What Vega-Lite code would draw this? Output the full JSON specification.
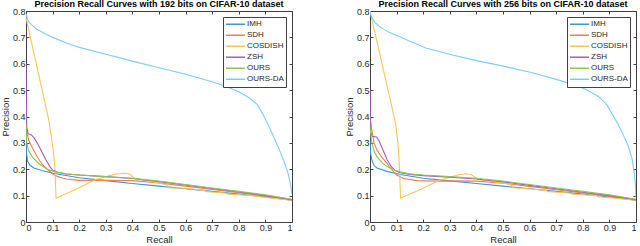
{
"$schema": "https://vega.github.io/schema/vega-lite/v6.json",
"padding": 0,
"background": "white",
"config": {
  "font": "Liberation Sans",
  "view": {"stroke": null},
  "axis": {"grid": false, "labelFont": "Liberation Sans", "labelFontSize": 9, "labelColor": "#262626", "tickColor": "#404040", "domainColor": "#404040", "tickSize": -3, "labelPadding": 4, "titleFont": "Liberation Sans", "titleFontSize": 9.5, "titleFontWeight": "normal", "titleColor": "#262626", "titlePadding": 2},
  "axisY": {"titlePadding": 2, "labelPadding": 4},
  "title": {"font": "Liberation Sans", "fontSize": 9, "fontWeight": "bold", "color": "#000000", "offset": -2},
  "legend": {"orient": "top-right", "offset": 6, "strokeColor": "#404040", "fillColor": "white", "padding": 2, "symbolType": "stroke", "symbolSize": 361, "symbolStrokeWidth": 1.5, "labelFont": "Liberation Sans", "labelFontSize": 8, "labelColor": "#262626", "clipHeight": 10.3, "rowPadding": 0, "labelOffset": 1, "cornerRadius": 0}
},
"datasets": {
"d": [
{"b":192,"m":"IMH","r":0,"p":0.31},{"b":192,"m":"IMH","r":0.002,"p":0.26},{"b":192,"m":"IMH","r":0.006,"p":0.23},{"b":192,"m":"IMH","r":0.015,"p":0.215},{"b":192,"m":"IMH","r":0.03,"p":0.205},{"b":192,"m":"IMH","r":0.06,"p":0.195},{"b":192,"m":"IMH","r":0.1,"p":0.185},{"b":192,"m":"IMH","r":0.15,"p":0.176},{"b":192,"m":"IMH","r":0.2,"p":0.168},{"b":192,"m":"IMH","r":0.3,"p":0.157},{"b":192,"m":"IMH","r":0.4,"p":0.146},{"b":192,"m":"IMH","r":0.5,"p":0.136},{"b":192,"m":"IMH","r":0.6,"p":0.126},{"b":192,"m":"IMH","r":0.7,"p":0.116},{"b":192,"m":"IMH","r":0.8,"p":0.106},{"b":192,"m":"IMH","r":0.9,"p":0.095},{"b":192,"m":"IMH","r":1,"p":0.083},
{"b":192,"m":"SDH","r":0,"p":0.42},{"b":192,"m":"SDH","r":0.002,"p":0.35},{"b":192,"m":"SDH","r":0.01,"p":0.31},{"b":192,"m":"SDH","r":0.025,"p":0.28},{"b":192,"m":"SDH","r":0.04,"p":0.25},{"b":192,"m":"SDH","r":0.06,"p":0.22},{"b":192,"m":"SDH","r":0.08,"p":0.2},{"b":192,"m":"SDH","r":0.1,"p":0.182},{"b":192,"m":"SDH","r":0.12,"p":0.172},{"b":192,"m":"SDH","r":0.15,"p":0.163},{"b":192,"m":"SDH","r":0.2,"p":0.158},{"b":192,"m":"SDH","r":0.3,"p":0.158},{"b":192,"m":"SDH","r":0.4,"p":0.157},{"b":192,"m":"SDH","r":0.5,"p":0.148},{"b":192,"m":"SDH","r":0.6,"p":0.136},{"b":192,"m":"SDH","r":0.7,"p":0.123},{"b":192,"m":"SDH","r":0.8,"p":0.111},{"b":192,"m":"SDH","r":0.9,"p":0.098},{"b":192,"m":"SDH","r":1,"p":0.083},
{"b":192,"m":"COSDISH","r":0,"p":0.775},{"b":192,"m":"COSDISH","r":0.086,"p":0.385},{"b":192,"m":"COSDISH","r":0.1,"p":0.29},{"b":192,"m":"COSDISH","r":0.108,"p":0.22},{"b":192,"m":"COSDISH","r":0.113,"p":0.09},{"b":192,"m":"COSDISH","r":0.2,"p":0.13},{"b":192,"m":"COSDISH","r":0.26,"p":0.16},{"b":192,"m":"COSDISH","r":0.3,"p":0.172},{"b":192,"m":"COSDISH","r":0.34,"p":0.182},{"b":192,"m":"COSDISH","r":0.37,"p":0.185},{"b":192,"m":"COSDISH","r":0.39,"p":0.182},{"b":192,"m":"COSDISH","r":0.405,"p":0.168},{"b":192,"m":"COSDISH","r":0.42,"p":0.162},{"b":192,"m":"COSDISH","r":0.5,"p":0.148},{"b":192,"m":"COSDISH","r":0.53,"p":0.14},{"b":192,"m":"COSDISH","r":0.535,"p":0.13},{"b":192,"m":"COSDISH","r":0.6,"p":0.128},{"b":192,"m":"COSDISH","r":0.67,"p":0.12},{"b":192,"m":"COSDISH","r":0.68,"p":0.115},{"b":192,"m":"COSDISH","r":0.75,"p":0.11},{"b":192,"m":"COSDISH","r":0.76,"p":0.105},{"b":192,"m":"COSDISH","r":0.85,"p":0.1},{"b":192,"m":"COSDISH","r":0.9,"p":0.093},{"b":192,"m":"COSDISH","r":1,"p":0.083},
{"b":192,"m":"ZSH","r":0,"p":0.6},{"b":192,"m":"ZSH","r":0.001,"p":0.45},{"b":192,"m":"ZSH","r":0.003,"p":0.36},{"b":192,"m":"ZSH","r":0.008,"p":0.335},{"b":192,"m":"ZSH","r":0.02,"p":0.33},{"b":192,"m":"ZSH","r":0.03,"p":0.32},{"b":192,"m":"ZSH","r":0.045,"p":0.295},{"b":192,"m":"ZSH","r":0.06,"p":0.265},{"b":192,"m":"ZSH","r":0.075,"p":0.235},{"b":192,"m":"ZSH","r":0.09,"p":0.21},{"b":192,"m":"ZSH","r":0.1,"p":0.197},{"b":192,"m":"ZSH","r":0.12,"p":0.188},{"b":192,"m":"ZSH","r":0.15,"p":0.182},{"b":192,"m":"ZSH","r":0.2,"p":0.178},{"b":192,"m":"ZSH","r":0.3,"p":0.172},{"b":192,"m":"ZSH","r":0.4,"p":0.165},{"b":192,"m":"ZSH","r":0.5,"p":0.153},{"b":192,"m":"ZSH","r":0.6,"p":0.14},{"b":192,"m":"ZSH","r":0.7,"p":0.127},{"b":192,"m":"ZSH","r":0.8,"p":0.114},{"b":192,"m":"ZSH","r":0.9,"p":0.1},{"b":192,"m":"ZSH","r":1,"p":0.085},
{"b":192,"m":"OURS","r":0,"p":0.37},{"b":192,"m":"OURS","r":0.003,"p":0.3},{"b":192,"m":"OURS","r":0.01,"p":0.27},{"b":192,"m":"OURS","r":0.025,"p":0.245},{"b":192,"m":"OURS","r":0.05,"p":0.22},{"b":192,"m":"OURS","r":0.08,"p":0.2},{"b":192,"m":"OURS","r":0.11,"p":0.19},{"b":192,"m":"OURS","r":0.15,"p":0.183},{"b":192,"m":"OURS","r":0.2,"p":0.178},{"b":192,"m":"OURS","r":0.3,"p":0.172},{"b":192,"m":"OURS","r":0.4,"p":0.166},{"b":192,"m":"OURS","r":0.5,"p":0.155},{"b":192,"m":"OURS","r":0.6,"p":0.142},{"b":192,"m":"OURS","r":0.7,"p":0.129},{"b":192,"m":"OURS","r":0.8,"p":0.116},{"b":192,"m":"OURS","r":0.9,"p":0.103},{"b":192,"m":"OURS","r":1,"p":0.086},
{"b":192,"m":"OURS-DA","r":0,"p":0.79},{"b":192,"m":"OURS-DA","r":0.005,"p":0.77},{"b":192,"m":"OURS-DA","r":0.01,"p":0.76},{"b":192,"m":"OURS-DA","r":0.02,"p":0.748},{"b":192,"m":"OURS-DA","r":0.04,"p":0.732},{"b":192,"m":"OURS-DA","r":0.07,"p":0.715},{"b":192,"m":"OURS-DA","r":0.1,"p":0.7},{"b":192,"m":"OURS-DA","r":0.15,"p":0.68},{"b":192,"m":"OURS-DA","r":0.2,"p":0.662},{"b":192,"m":"OURS-DA","r":0.3,"p":0.636},{"b":192,"m":"OURS-DA","r":0.4,"p":0.61},{"b":192,"m":"OURS-DA","r":0.5,"p":0.585},{"b":192,"m":"OURS-DA","r":0.6,"p":0.56},{"b":192,"m":"OURS-DA","r":0.7,"p":0.532},{"b":192,"m":"OURS-DA","r":0.75,"p":0.515},{"b":192,"m":"OURS-DA","r":0.8,"p":0.494},{"b":192,"m":"OURS-DA","r":0.84,"p":0.47},{"b":192,"m":"OURS-DA","r":0.87,"p":0.445},{"b":192,"m":"OURS-DA","r":0.89,"p":0.41},{"b":192,"m":"OURS-DA","r":0.91,"p":0.37},{"b":192,"m":"OURS-DA","r":0.93,"p":0.325},{"b":192,"m":"OURS-DA","r":0.95,"p":0.28},{"b":192,"m":"OURS-DA","r":0.97,"p":0.23},{"b":192,"m":"OURS-DA","r":0.985,"p":0.185},{"b":192,"m":"OURS-DA","r":0.995,"p":0.14},{"b":192,"m":"OURS-DA","r":1,"p":0.105},
{"b":256,"m":"IMH","r":0,"p":0.31},{"b":256,"m":"IMH","r":0.002,"p":0.26},{"b":256,"m":"IMH","r":0.008,"p":0.232},{"b":256,"m":"IMH","r":0.015,"p":0.215},{"b":256,"m":"IMH","r":0.026,"p":0.205},{"b":256,"m":"IMH","r":0.064,"p":0.192},{"b":256,"m":"IMH","r":0.114,"p":0.18},{"b":256,"m":"IMH","r":0.2,"p":0.166},{"b":256,"m":"IMH","r":0.3,"p":0.156},{"b":256,"m":"IMH","r":0.4,"p":0.146},{"b":256,"m":"IMH","r":0.5,"p":0.136},{"b":256,"m":"IMH","r":0.6,"p":0.126},{"b":256,"m":"IMH","r":0.7,"p":0.116},{"b":256,"m":"IMH","r":0.8,"p":0.106},{"b":256,"m":"IMH","r":0.9,"p":0.095},{"b":256,"m":"IMH","r":1,"p":0.083},
{"b":256,"m":"SDH","r":0,"p":0.4},{"b":256,"m":"SDH","r":0.005,"p":0.36},{"b":256,"m":"SDH","r":0.015,"p":0.3},{"b":256,"m":"SDH","r":0.026,"p":0.273},{"b":256,"m":"SDH","r":0.045,"p":0.245},{"b":256,"m":"SDH","r":0.064,"p":0.222},{"b":256,"m":"SDH","r":0.08,"p":0.2},{"b":256,"m":"SDH","r":0.1,"p":0.178},{"b":256,"m":"SDH","r":0.126,"p":0.165},{"b":256,"m":"SDH","r":0.176,"p":0.157},{"b":256,"m":"SDH","r":0.25,"p":0.155},{"b":256,"m":"SDH","r":0.3,"p":0.156},{"b":256,"m":"SDH","r":0.4,"p":0.155},{"b":256,"m":"SDH","r":0.5,"p":0.147},{"b":256,"m":"SDH","r":0.6,"p":0.135},{"b":256,"m":"SDH","r":0.7,"p":0.122},{"b":256,"m":"SDH","r":0.8,"p":0.11},{"b":256,"m":"SDH","r":0.9,"p":0.097},{"b":256,"m":"SDH","r":1,"p":0.083},
{"b":256,"m":"COSDISH","r":0,"p":0.8},{"b":256,"m":"COSDISH","r":0.096,"p":0.375},{"b":256,"m":"COSDISH","r":0.105,"p":0.3},{"b":256,"m":"COSDISH","r":0.11,"p":0.22},{"b":256,"m":"COSDISH","r":0.115,"p":0.09},{"b":256,"m":"COSDISH","r":0.2,"p":0.128},{"b":256,"m":"COSDISH","r":0.26,"p":0.158},{"b":256,"m":"COSDISH","r":0.3,"p":0.17},{"b":256,"m":"COSDISH","r":0.33,"p":0.178},{"b":256,"m":"COSDISH","r":0.36,"p":0.183},{"b":256,"m":"COSDISH","r":0.38,"p":0.18},{"b":256,"m":"COSDISH","r":0.395,"p":0.17},{"b":256,"m":"COSDISH","r":0.41,"p":0.16},{"b":256,"m":"COSDISH","r":0.5,"p":0.148},{"b":256,"m":"COSDISH","r":0.53,"p":0.14},{"b":256,"m":"COSDISH","r":0.54,"p":0.13},{"b":256,"m":"COSDISH","r":0.58,"p":0.127},{"b":256,"m":"COSDISH","r":0.66,"p":0.12},{"b":256,"m":"COSDISH","r":0.67,"p":0.115},{"b":256,"m":"COSDISH","r":0.75,"p":0.11},{"b":256,"m":"COSDISH","r":0.76,"p":0.105},{"b":256,"m":"COSDISH","r":0.85,"p":0.1},{"b":256,"m":"COSDISH","r":0.86,"p":0.095},{"b":256,"m":"COSDISH","r":0.9,"p":0.092},{"b":256,"m":"COSDISH","r":1,"p":0.083},
{"b":256,"m":"ZSH","r":0,"p":0.5},{"b":256,"m":"ZSH","r":0.001,"p":0.4},{"b":256,"m":"ZSH","r":0.003,"p":0.34},{"b":256,"m":"ZSH","r":0.008,"p":0.325},{"b":256,"m":"ZSH","r":0.025,"p":0.322},{"b":256,"m":"ZSH","r":0.035,"p":0.305},{"b":256,"m":"ZSH","r":0.05,"p":0.27},{"b":256,"m":"ZSH","r":0.065,"p":0.235},{"b":256,"m":"ZSH","r":0.08,"p":0.21},{"b":256,"m":"ZSH","r":0.095,"p":0.195},{"b":256,"m":"ZSH","r":0.11,"p":0.188},{"b":256,"m":"ZSH","r":0.15,"p":0.18},{"b":256,"m":"ZSH","r":0.2,"p":0.176},{"b":256,"m":"ZSH","r":0.3,"p":0.17},{"b":256,"m":"ZSH","r":0.4,"p":0.163},{"b":256,"m":"ZSH","r":0.5,"p":0.152},{"b":256,"m":"ZSH","r":0.6,"p":0.139},{"b":256,"m":"ZSH","r":0.7,"p":0.126},{"b":256,"m":"ZSH","r":0.8,"p":0.113},{"b":256,"m":"ZSH","r":0.9,"p":0.1},{"b":256,"m":"ZSH","r":1,"p":0.085},
{"b":256,"m":"OURS","r":0,"p":0.36},{"b":256,"m":"OURS","r":0.005,"p":0.31},{"b":256,"m":"OURS","r":0.015,"p":0.27},{"b":256,"m":"OURS","r":0.026,"p":0.248},{"b":256,"m":"OURS","r":0.045,"p":0.225},{"b":256,"m":"OURS","r":0.064,"p":0.21},{"b":256,"m":"OURS","r":0.09,"p":0.197},{"b":256,"m":"OURS","r":0.114,"p":0.19},{"b":256,"m":"OURS","r":0.15,"p":0.183},{"b":256,"m":"OURS","r":0.2,"p":0.178},{"b":256,"m":"OURS","r":0.3,"p":0.172},{"b":256,"m":"OURS","r":0.4,"p":0.166},{"b":256,"m":"OURS","r":0.5,"p":0.155},{"b":256,"m":"OURS","r":0.6,"p":0.142},{"b":256,"m":"OURS","r":0.7,"p":0.129},{"b":256,"m":"OURS","r":0.8,"p":0.116},{"b":256,"m":"OURS","r":0.9,"p":0.103},{"b":256,"m":"OURS","r":1,"p":0.086},
{"b":256,"m":"OURS-DA","r":0,"p":0.8},{"b":256,"m":"OURS-DA","r":0.005,"p":0.78},{"b":256,"m":"OURS-DA","r":0.01,"p":0.768},{"b":256,"m":"OURS-DA","r":0.02,"p":0.755},{"b":256,"m":"OURS-DA","r":0.04,"p":0.738},{"b":256,"m":"OURS-DA","r":0.07,"p":0.72},{"b":256,"m":"OURS-DA","r":0.11,"p":0.703},{"b":256,"m":"OURS-DA","r":0.15,"p":0.685},{"b":256,"m":"OURS-DA","r":0.21,"p":0.66},{"b":256,"m":"OURS-DA","r":0.31,"p":0.633},{"b":256,"m":"OURS-DA","r":0.41,"p":0.61},{"b":256,"m":"OURS-DA","r":0.51,"p":0.589},{"b":256,"m":"OURS-DA","r":0.61,"p":0.566},{"b":256,"m":"OURS-DA","r":0.71,"p":0.538},{"b":256,"m":"OURS-DA","r":0.76,"p":0.522},{"b":256,"m":"OURS-DA","r":0.81,"p":0.503},{"b":256,"m":"OURS-DA","r":0.86,"p":0.475},{"b":256,"m":"OURS-DA","r":0.89,"p":0.445},{"b":256,"m":"OURS-DA","r":0.91,"p":0.41},{"b":256,"m":"OURS-DA","r":0.93,"p":0.375},{"b":256,"m":"OURS-DA","r":0.95,"p":0.335},{"b":256,"m":"OURS-DA","r":0.97,"p":0.29},{"b":256,"m":"OURS-DA","r":0.985,"p":0.24},{"b":256,"m":"OURS-DA","r":0.993,"p":0.19},{"b":256,"m":"OURS-DA","r":0.998,"p":0.14},{"b":256,"m":"OURS-DA","r":1,"p":0.09}
]
},
"data": {"name": "d"},
"spacing": 51,
"resolve": {"scale": {"color": "shared"}, "legend": {"color": "independent"}},
"hconcat": [
 {
  "title": "Precision Recall Curves with 192 bits on CIFAR-10 dataset",
  "width": 266, "height": 211,
  "transform": [{"filter": "datum.b == 192"}],
  "layer": [
   {"mark": {"type": "line", "strokeWidth": 1.1, "clip": true},
    "encoding": {
     "x": {"field": "r", "type": "quantitative", "scale": {"domain": [0, 1], "nice": false, "zero": false}, "axis": {"title": "Recall", "values": [0,0.1,0.2,0.3,0.4,0.5,0.6,0.7,0.8,0.9,1], "format": ".1~f"}},
     "y": {"field": "p", "type": "quantitative", "scale": {"domain": [0, 0.8], "nice": false}, "axis": {"title": "Precision", "values": [0,0.1,0.2,0.3,0.4,0.5,0.6,0.7,0.8], "format": ".1~f"}},
     "color": {"field": "m", "type": "nominal", "scale": {"domain": ["IMH","SDH","COSDISH","ZSH","OURS","OURS-DA"], "range": ["#3d95d6","#ee7e54","#f6c55a","#a35fb3","#8fc15a","#7ccdf4"]}, "legend": {"title": null}}
    }},
   {"mark": {"type": "line", "opacity": 0},
    "encoding": {
     "x": {"field": "r", "type": "quantitative", "axis": {"orient": "top", "labels": false, "title": null, "values": [0,0.1,0.2,0.3,0.4,0.5,0.6,0.7,0.8,0.9,1]}},
     "y": {"field": "p", "type": "quantitative", "axis": {"orient": "right", "labels": false, "title": null, "values": [0,0.1,0.2,0.3,0.4,0.5,0.6,0.7,0.8]}}
    }}
  ],
  "resolve": {"axis": {"x": "independent", "y": "independent"}}
 },
 {
  "title": "Precision Recall Curves with 256 bits on CIFAR-10 dataset",
  "width": 266, "height": 211,
  "transform": [{"filter": "datum.b == 256"}],
  "layer": [
   {"mark": {"type": "line", "strokeWidth": 1.1, "clip": true},
    "encoding": {
     "x": {"field": "r", "type": "quantitative", "scale": {"domain": [0, 1], "nice": false, "zero": false}, "axis": {"title": "Recall", "values": [0,0.1,0.2,0.3,0.4,0.5,0.6,0.7,0.8,0.9,1], "format": ".1~f"}},
     "y": {"field": "p", "type": "quantitative", "scale": {"domain": [0, 0.8], "nice": false}, "axis": {"title": "Precision", "values": [0,0.1,0.2,0.3,0.4,0.5,0.6,0.7,0.8], "format": ".1~f"}},
     "color": {"field": "m", "type": "nominal", "scale": {"domain": ["IMH","SDH","COSDISH","ZSH","OURS","OURS-DA"], "range": ["#3d95d6","#ee7e54","#f6c55a","#a35fb3","#8fc15a","#7ccdf4"]}, "legend": {"title": null}}
    }},
   {"mark": {"type": "line", "opacity": 0},
    "encoding": {
     "x": {"field": "r", "type": "quantitative", "axis": {"orient": "top", "labels": false, "title": null, "values": [0,0.1,0.2,0.3,0.4,0.5,0.6,0.7,0.8,0.9,1]}},
     "y": {"field": "p", "type": "quantitative", "axis": {"orient": "right", "labels": false, "title": null, "values": [0,0.1,0.2,0.3,0.4,0.5,0.6,0.7,0.8]}}
    }}
  ],
  "resolve": {"axis": {"x": "independent", "y": "independent"}}
 }
]
}
